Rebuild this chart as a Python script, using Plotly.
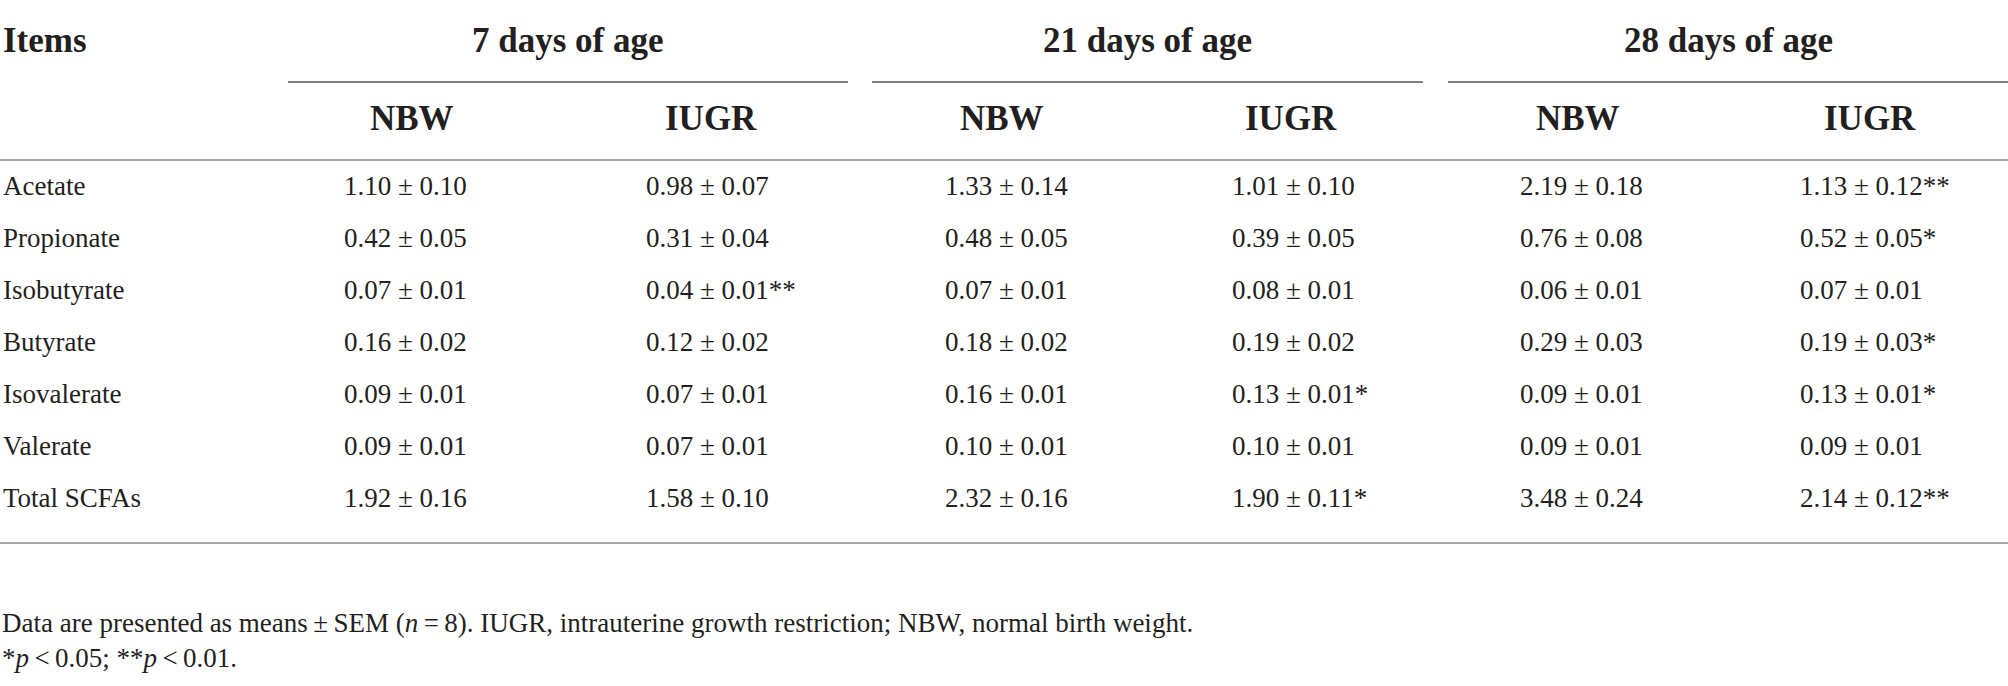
import plotly.graph_objects as go

# ---- data ----
items = ["Acetate", "Propionate", "Isobutyrate", "Butyrate", "Isovalerate", "Valerate", "Total SCFAs"]
age_groups = ["7 days of age", "21 days of age", "28 days of age"]
groups = ["NBW", "IUGR"]

nbw7_mean = [1.10, 0.42, 0.07, 0.16, 0.09, 0.09, 1.92]
nbw7_sem = [0.10, 0.05, 0.01, 0.02, 0.01, 0.01, 0.16]
iugr7_mean = [0.98, 0.31, 0.04, 0.12, 0.07, 0.07, 1.58]
iugr7_sem = [0.07, 0.04, 0.01, 0.02, 0.01, 0.01, 0.10]
iugr7_sig = ["", "", "**", "", "", "", ""]

nbw21_mean = [1.33, 0.48, 0.07, 0.18, 0.16, 0.10, 2.32]
nbw21_sem = [0.14, 0.05, 0.01, 0.02, 0.01, 0.01, 0.16]
iugr21_mean = [1.01, 0.39, 0.08, 0.19, 0.13, 0.10, 1.90]
iugr21_sem = [0.10, 0.05, 0.01, 0.02, 0.01, 0.01, 0.11]
iugr21_sig = ["", "", "", "", "*", "", "*"]

nbw28_mean = [2.19, 0.76, 0.06, 0.29, 0.09, 0.09, 3.48]
nbw28_sem = [0.18, 0.08, 0.01, 0.03, 0.01, 0.01, 0.24]
iugr28_mean = [1.13, 0.52, 0.07, 0.19, 0.13, 0.09, 2.14]
iugr28_sem = [0.12, 0.05, 0.01, 0.03, 0.01, 0.01, 0.12]
iugr28_sig = ["**", "*", "", "*", "*", "", "**"]

no_sig = [""] * len(items)

footnote1 = ("Data are presented as means\u2009±\u2009SEM (<i>n</i>\u2009=\u20098). "
             "IUGR, intrauterine growth restriction; NBW, normal birth weight.")
footnote2 = "*<i>p</i>\u2009<\u20090.05; **<i>p</i>\u2009<\u20090.01."

# ---- layout constants ----
W, H = 2008, 686
TXT = "#231f20"
FONT = "Liberation Serif"
BODY = 27
HEAD = 35

columns = [
    (nbw7_mean, nbw7_sem, no_sig),
    (iugr7_mean, iugr7_sem, iugr7_sig),
    (nbw21_mean, nbw21_sem, no_sig),
    (iugr21_mean, iugr21_sem, iugr21_sig),
    (nbw28_mean, nbw28_sem, no_sig),
    (iugr28_mean, iugr28_sem, iugr28_sig),
]
value_left = [342, 644, 943, 1230, 1518, 1798]
sub_center = [412, 711, 1002, 1291, 1578, 1870]
group_span = [(288, 848), (872, 1423), (1448, 2008)]

y_head = 40
y_group_line = 82
y_sub = 118
y_head_line = 160
y_row0 = 186
row_step = 52
y_bottom_line = 543
y_foot1 = 623
y_foot2 = 658

fig = go.Figure()
annotations = []
shapes = []

def add_text(x, y, text, size, xanchor="left", bold=False):
    annotations.append(dict(
        x=x, y=y, xref="x", yref="y", text=("<b>%s</b>" % text) if bold else text,
        showarrow=False, xanchor=xanchor, yanchor="middle",
        font=dict(family=FONT, size=size, color=TXT),
    ))

add_text(1, y_head, "Items", HEAD, bold=True)
for g, (x0, x1) in zip(age_groups, group_span):
    add_text((x0 + x1) / 2, y_head, g, HEAD, xanchor="center", bold=True)
    shapes.append(dict(type="line", xref="x", yref="y", x0=x0, x1=x1,
                       y0=y_group_line, y1=y_group_line,
                       line=dict(color="#808080", width=2)))
for i, xc in enumerate(sub_center):
    add_text(xc, y_sub, groups[i % 2], HEAD, xanchor="center", bold=True)

for y in (y_head_line, y_bottom_line):
    shapes.append(dict(type="line", xref="x", yref="y", x0=0, x1=W, y0=y, y1=y,
                       line=dict(color="#a6a6a6", width=2)))

for r, item in enumerate(items):
    y = y_row0 + r * row_step
    add_text(1, y, item, BODY)
    for c, (m, s, sig) in enumerate(columns):
        add_text(value_left[c], y, "%.2f ± %.2f%s" % (m[r], s[r], sig[r]), BODY)

add_text(0, y_foot1, footnote1, BODY)
add_text(0, y_foot2, footnote2, BODY)

fig.update_layout(
    width=W, height=H,
    margin=dict(l=0, r=0, t=0, b=0),
    paper_bgcolor="white", plot_bgcolor="white",
    xaxis=dict(range=[0, W], visible=False, fixedrange=True),
    yaxis=dict(range=[H, 0], visible=False, fixedrange=True),
    annotations=annotations, shapes=shapes, showlegend=False,
)
fig.write_html(
    "out.html",
    config={"displayModeBar": False},
    post_script="document.body.style.margin='0';document.body.style.overflow='hidden';",
)
